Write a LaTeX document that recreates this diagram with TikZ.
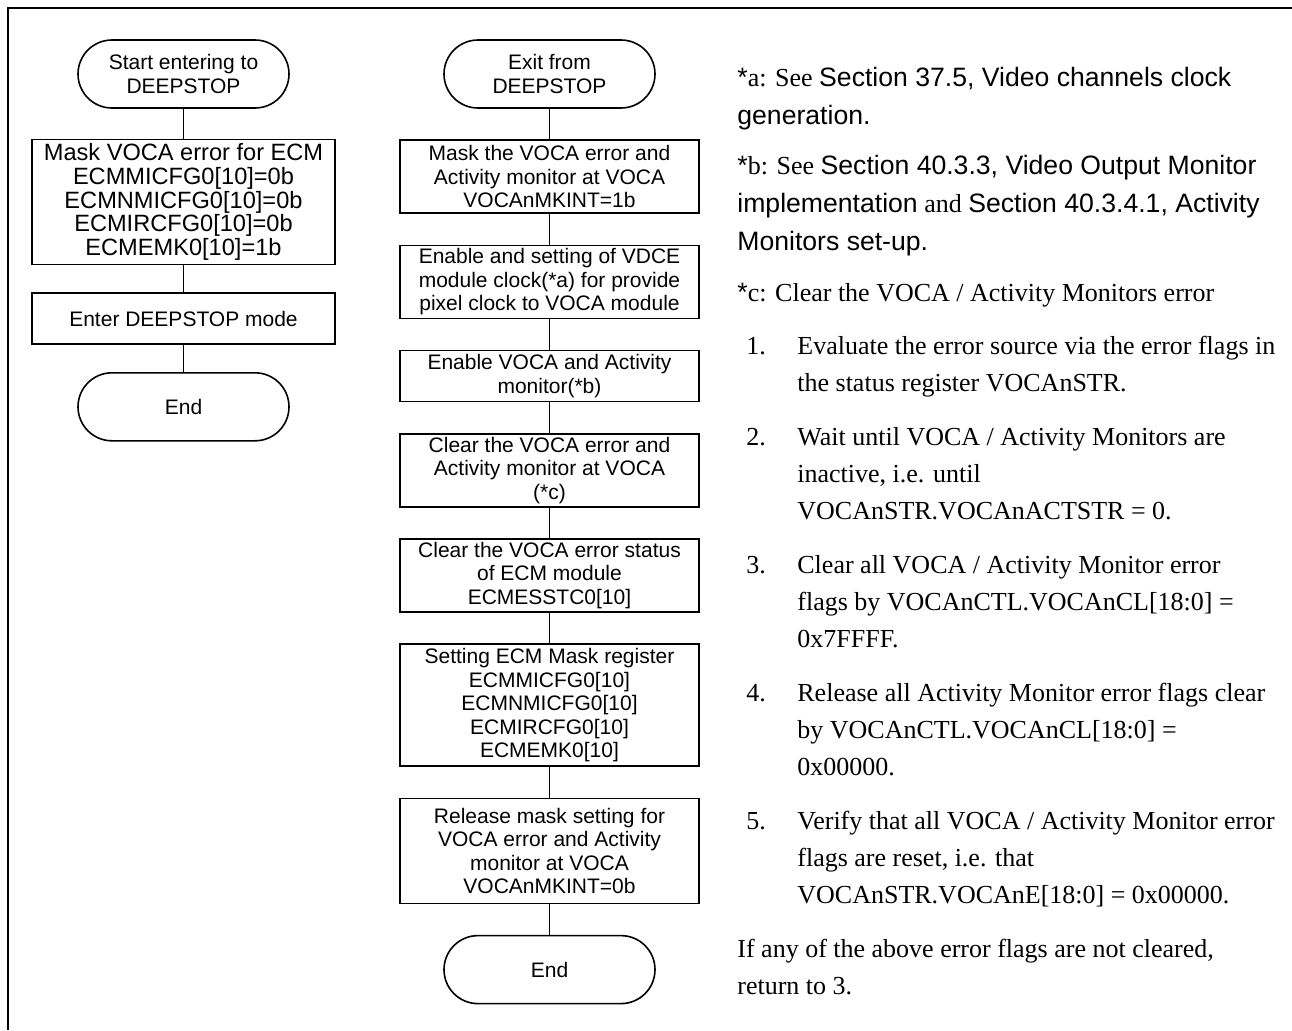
\documentclass[tikz,border=0pt]{standalone}
\usepackage{fontspec}
\setmainfont{Liberation Serif}
\setsansfont{Liberation Sans}
\usetikzlibrary{positioning}
\newcommand{\flowfont}{\sffamily\fontsize{10.5pt}{11.75pt}\selectfont}
\newcommand{\notefont}{\rmfamily\fontsize{13pt}{18.5pt}\selectfont}
\newcommand{\sfpart}[1]{{\sffamily\fontsize{13.3pt}{19pt}\selectfont #1}}
\tikzset{
    term/.style={draw, line width=0.8pt, rounded corners=17pt, minimum width=105.5pt, minimum height=34pt, align=center, font=\flowfont},
    proc/.style={draw, line width=0.8pt, minimum height=25.5pt, inner ysep=1.5pt, align=center, font=\flowfont},
    note/.style={anchor=base west, inner sep=0pt, font=\notefont},
    link/.style={line width=0.8pt}
}
\begin{document}
\begin{tikzpicture}[x=0.5pt, y=-0.5pt, node distance=13.5pt]
    \useasboundingbox (0,0) rectangle (1292,1030);
    \draw[line width=1pt] (1292,8) -- (8,8) -- (8,1030);

    \node[term] (n1) at (183.5,74) {Start entering to\\DEEPSTOP};
    \node[proc, below=15pt of n1, minimum width=151.5pt, minimum height=62.5pt, font=\sffamily\fontsize{11.8pt}{11.85pt}\selectfont] (n2) {Mask VOCA error for ECM\\ECMMICFG0[10]=0b\\ECMNMICFG0[10]=0b\\ECMIRCFG0[10]=0b\\ECMEMK0[10]=1b};
    \node[proc, below=of n2, minimum width=151.5pt] (n3) {Enter DEEPSTOP mode};
    \node[term, below=of n3] (n4) {End};
    \draw[link] (n1) -- (n2);
    \draw[link] (n2) -- (n3);
    \draw[link] (n3) -- (n4);

    \node[term] (n5) at (549.5,74) {Exit from\\DEEPSTOP};
    \node[proc, below=15.3pt of n5, minimum width=149.5pt, minimum height=36.5pt] (n6) {Mask the VOCA error and\\Activity monitor at VOCA\\VOCAnMKINT=1b};
    \node[proc, below=15.3pt of n6, minimum width=149.5pt, minimum height=36.5pt] (n7) {Enable and setting of VDCE\\module clock(*a) for provide\\pixel clock to VOCA module};
    \node[proc, below=15.3pt of n7, minimum width=149.5pt] (n8) {Enable VOCA and Activity\\monitor(*b)};
    \node[proc, below=15.3pt of n8, minimum width=149.5pt, minimum height=36.5pt] (n9) {Clear the VOCA error and\\Activity monitor at VOCA\\(*c)};
    \node[proc, below=15.3pt of n9, minimum width=149.5pt, minimum height=36.5pt] (n10) {Clear the VOCA error status\\of ECM module\\ECMESSTC0[10]};
    \node[proc, below=15.3pt of n10, minimum width=149.5pt, minimum height=61pt] (n11) {Setting ECM Mask register\\ECMMICFG0[10]\\ECMNMICFG0[10]\\ECMIRCFG0[10]\\ECMEMK0[10]};
    \node[proc, below=15.3pt of n11, minimum width=149.5pt, minimum height=52.5pt] (n12) {Release mask setting for\\VOCA error and Activity\\monitor at VOCA\\VOCAnMKINT=0b};
    \node[term, below=15.3pt of n12] (n13) {End};
    \draw[link] (n5) -- (n6);
    \draw[link] (n6) -- (n7);
    \draw[link] (n7) -- (n8);
    \draw[link] (n8) -- (n9);
    \draw[link] (n9) -- (n10);
    \draw[link] (n10) -- (n11);
    \draw[link] (n11) -- (n12);
    \draw[link] (n12) -- (n13);

    \node[note, font=\rmfamily\fontsize{13pt}{19pt}\selectfont] (notea) at (737,86) {\begin{tabular}[t]{@{}l@{}}\sfpart{*}a: See \sfpart{Section 37.5, Video channels clock}\\\sfpart{generation.}\end{tabular}};
    \node[note, font=\rmfamily\fontsize{13pt}{19pt}\selectfont] (noteb) at (737,174) {\begin{tabular}[t]{@{}l@{}}\sfpart{*}b: See \sfpart{Section 40.3.3, Video Output Monitor}\\\sfpart{implementation} and \sfpart{Section 40.3.4.1, Activity}\\\sfpart{Monitors set-up.}\end{tabular}};
    \node[note] (notec) at (737,301) {\sfpart{*}c: Clear the VOCA / Activity Monitors error};
    \node[note] (item1) at (746,354) {\begin{tabular}[t]{@{}p{25.5pt}@{}l@{}}1. & Evaluate the error source via the error flags in\\ & the status register VOCAnSTR.\end{tabular}};
    \node[note] (item2) at (746,445) {\begin{tabular}[t]{@{}p{25.5pt}@{}l@{}}2. & Wait until VOCA / Activity Monitors are\\ & inactive, i.e. until\\ & VOCAnSTR.VOCAnACTSTR = 0.\end{tabular}};
    \node[note] (item3) at (746,573) {\begin{tabular}[t]{@{}p{25.5pt}@{}l@{}}3. & Clear all VOCA / Activity Monitor error\\ & flags by VOCAnCTL.VOCAnCL[18:0] =\\ & 0x7FFFF.\end{tabular}};
    \node[note] (item4) at (746,701) {\begin{tabular}[t]{@{}p{25.5pt}@{}l@{}}4. & Release all Activity Monitor error flags clear\\ & by VOCAnCTL.VOCAnCL[18:0] =\\ & 0x00000.\end{tabular}};
    \node[note] (item5) at (746,829) {\begin{tabular}[t]{@{}p{25.5pt}@{}l@{}}5. & Verify that all VOCA / Activity Monitor error\\ & flags are reset, i.e. that\\ & VOCAnSTR.VOCAnE[18:0] = 0x00000.\end{tabular}};
    \node[note] (noted) at (737,957) {\begin{tabular}[t]{@{}l@{}}If any of the above error flags are not cleared,\\return to 3.\end{tabular}};
\end{tikzpicture}
\end{document}
